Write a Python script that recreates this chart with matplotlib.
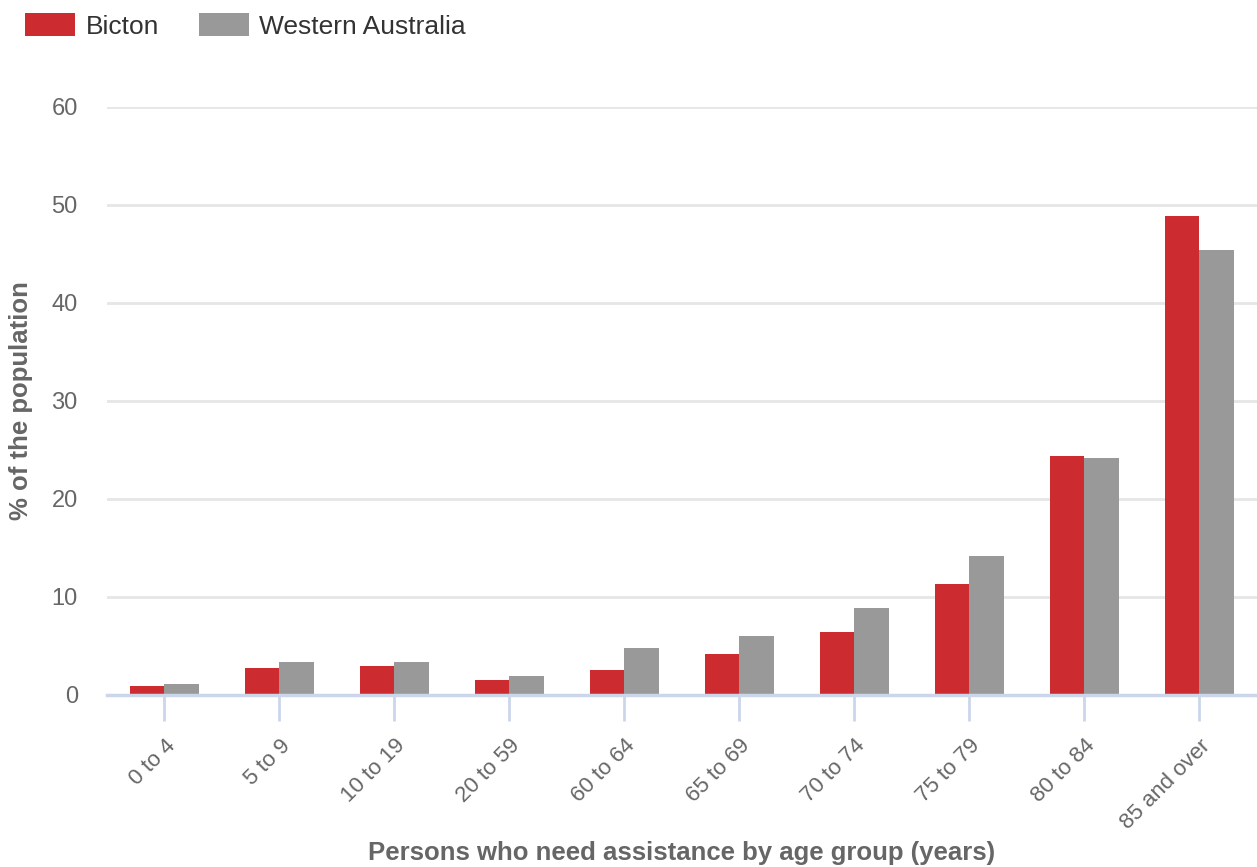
import numpy as np
import matplotlib.pyplot as plt

# grupos de idade
grupos = ['0 to 4', '5 to 9', '10 to 19', '20 to 59', '60 to 64',
          '65 to 69', '70 to 74', '75 to 79', '80 to 84', '85 and over']

# % da população que precisa de assistência
bicton = [0.9, 2.8, 3.0, 1.5, 2.6, 4.2, 6.4, 11.3, 24.4, 48.9]
western_australia = [1.1, 3.4, 3.4, 1.9, 4.8, 6.0, 8.9, 14.2, 24.2, 45.4]

y_ticks = [0, 10, 20, 30, 40, 50, 60]

plt.rcParams['font.family'] = ['Liberation Sans', 'DejaVu Sans']

fig = plt.figure(figsize=(12.57, 8.67), dpi=100)
ax = fig.add_axes([0.0851, 0.1984, 0.9149, 0.6782])

x = np.arange(len(grupos))
largura = 0.3
ax.bar(x - largura / 2, bicton, largura, color='#cc2b30', label='Bicton', zorder=3)
ax.bar(x + largura / 2, western_australia, largura, color='#999999',
       label='Western Australia', zorder=3)

ax.set_xlim(-0.5, len(grupos) - 0.5)
ax.set_ylim(0, 60)
ax.set_yticks(y_ticks)
ax.yaxis.grid(True, color='#e6e6e6', linewidth=2, zorder=0)
ax.tick_params(axis='y', length=0, labelsize=17, labelcolor='#666666', pad=21)

for lado in ['top', 'right', 'left']:
    ax.spines[lado].set_visible(False)
ax.spines['bottom'].set_color('#ccd6eb')
ax.spines['bottom'].set_linewidth(2.5)
ax.spines['bottom'].set_zorder(4)

ax.set_xticks(x)
ax.set_xticklabels(grupos, rotation=45, ha='right', va='top', rotation_mode='anchor')
ax.tick_params(axis='x', length=19, width=2, color='#ccd6eb', labelsize=16,
               labelcolor='#666666', pad=10)

ax.set_xlabel('Persons who need assistance by age group (years)', fontsize=18.5,
              fontweight='bold', color='#666666', va='center')
ax.xaxis.set_label_coords(0.5, -0.269)
ax.set_ylabel('% of the population', fontsize=18.5, fontweight='bold',
              color='#666666', va='center')
ax.yaxis.set_label_coords(-0.0748, 0.5)

fig.legend(loc='upper left', bbox_to_anchor=(0.001, 1.012), ncol=2, frameon=False,
           fontsize=19, handlelength=1.9, handleheight=0.95, handletextpad=0.4,
           columnspacing=1.5, labelcolor='#333333')

fig.savefig('out.png', dpi=100)
